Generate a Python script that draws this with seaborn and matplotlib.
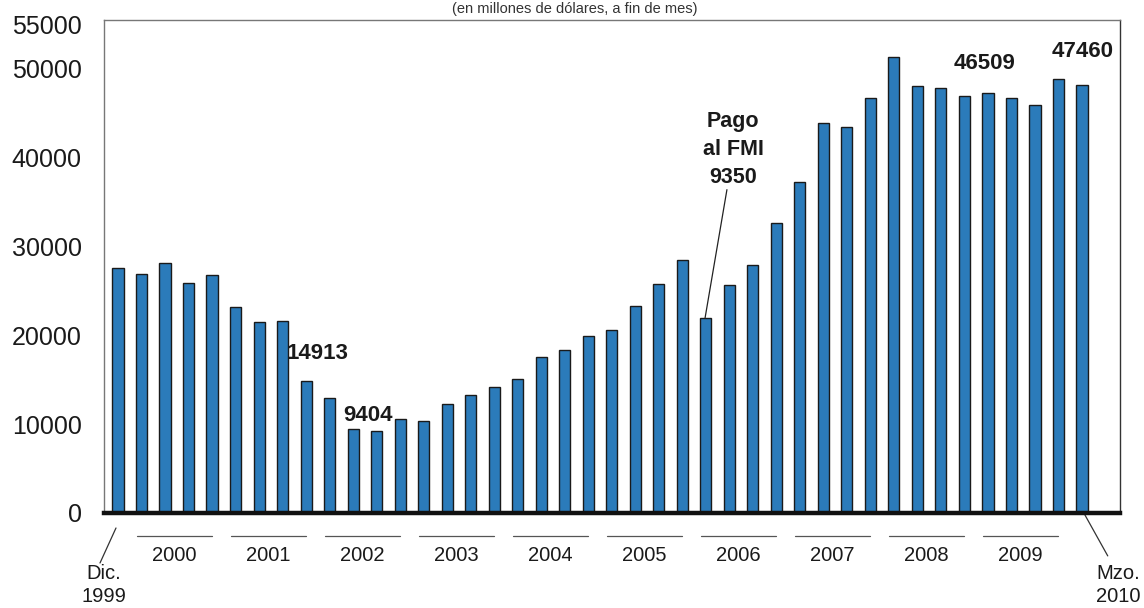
import matplotlib
matplotlib.use("Agg")
import matplotlib.pyplot as plt
import matplotlib.transforms as mtransforms
import seaborn as sns
import pandas as pd

# ---- data ----
periods = ["Dic 1999"] + [f"{y}T{q}" for y in range(2000, 2010) for q in range(1, 5)] + ["Mzo 2010"]
reserves = [27560, 26900, 28200, 25900, 26800, 23200, 21500, 21650, 14913, 12900,
            9404, 9230, 10550, 10400, 12240, 13300, 14150, 15100, 17600, 18400,
            19970, 20640, 23300, 25800, 28500, 21900, 25700, 27900, 32600, 37300,
            43900, 43500, 46700, 51300, 48100, 47900, 47000, 47300, 46700, 45980,
            48900, 48200]
years = [str(y) for y in range(2000, 2010)]
yticks = [0, 10000, 20000, 30000, 40000, 50000, 55000]
subtitle = "(en millones de dólares, a fin de mes)"

df = pd.DataFrame({"periodo": periods, "reservas": reserves})

sns.set_theme(style="white")
narrow = ["Liberation Sans Narrow", "Liberation Sans", "DejaVu Sans"]
regular = ["Liberation Sans", "DejaVu Sans"]
plt.rcParams["font.family"] = regular

fig = plt.figure(figsize=(11.44, 6.08), dpi=100)
ax = fig.add_axes([104 / 1144, 95 / 608, 1015.5 / 1144, 493 / 608])

sns.barplot(data=df, x="periodo", y="reservas", order=periods, color="#2B7BBA",
            saturation=1, width=0.48, edgecolor="#1a1a1a", linewidth=1.0, ax=ax)

ax.set_xlim(-0.6, 42.6)
ax.set_ylim(0, 55500)
ax.set_xlabel("")
ax.set_ylabel("")
ax.set_xticks([])
ax.set_yticks(yticks)
ax.set_yticklabels([str(v) for v in yticks], fontsize=18, family=regular, color="#1a1a1a")
ax.tick_params(axis="y", length=0, pad=16)

for s in ["left", "top", "right"]:
    ax.spines[s].set_visible(True)
    ax.spines[s].set_color("#777777")
    ax.spines[s].set_linewidth(1.0)
ax.spines["right"].set_color("#333333")
ax.spines["bottom"].set_color("#111111")
ax.spines["bottom"].set_linewidth(3.2)

trans = mtransforms.blended_transform_factory(ax.transData, ax.transAxes)

# year groups
for k, yr in enumerate(years):
    x0, x1 = 4 * k + 0.8, 4 * k + 4.0
    ax.plot([x0, x1], [-0.046, -0.046], transform=trans, color="#555555", lw=0.9, clip_on=False)
    ax.text((x0 + x1) / 2, -0.0852, yr, transform=trans, ha="center", va="center",
            fontsize=14.5, family=narrow, color="#1a1a1a")

# end labels
ax.text(-0.6, -0.146, "Dic.\n1999", transform=trans, ha="center", va="center",
        fontsize=14.5, family=narrow, color="#1a1a1a", linespacing=1.3)
ax.plot([-0.09, -0.77], [-0.0304, -0.1014], transform=trans, color="#333333", lw=0.9, clip_on=False)
ax.text(42.54, -0.146, "Mzo.\n2010", transform=trans, ha="center", va="center",
        fontsize=14.5, family=narrow, color="#1a1a1a", linespacing=1.3)
ax.plot([41.13, 42.1], [-0.004, -0.087], transform=trans, color="#333333", lw=0.9, clip_on=False)

# value annotations
ann = dict(ha="center", va="center", fontsize=16, fontweight="bold", family=narrow, color="#1a1a1a")
ax.text(8.5, 17900, "14913", **ann)
ax.text(10.63, 11000, "9404", **ann)
ax.text(36.84, 50600, "46509", **ann)
ax.text(41.05, 51900, "47460", clip_on=False, **ann)

ax.text(26.16, 40900, "Pago\nal FMI\n9350", ha="center", va="center", fontsize=15.5,
        fontweight="bold", family=narrow, color="#1a1a1a", linespacing=1.45)
ax.plot([25.9, 24.97], [36400, 21960], color="#222222", lw=0.9)

fig.text(575 / 1144, 1 - 9 / 608, subtitle, ha="center", va="center", fontsize=10.5,
         family=narrow, color="#333333")

fig.savefig("out.png", dpi=100)
